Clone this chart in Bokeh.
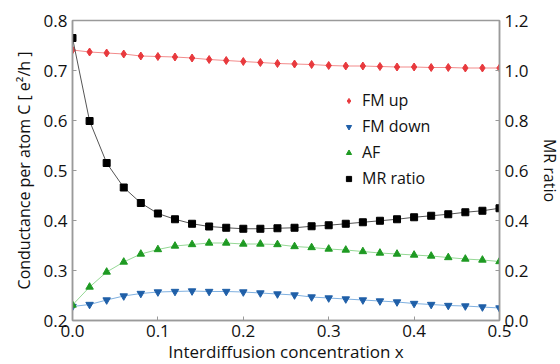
from bokeh.plotting import figure
from bokeh.models import Range1d, LinearAxis, FixedTicker, PrintfTickFormatter, Legend, LegendItem
from bokeh.embed import file_html
from bokeh.resources import INLINE

x = [0.00, 0.02, 0.04, 0.06, 0.08, 0.10, 0.12, 0.14, 0.16, 0.18, 0.20, 0.22, 0.24,
     0.26, 0.28, 0.30, 0.32, 0.34, 0.36, 0.38, 0.40, 0.42, 0.44, 0.46, 0.48, 0.50]

fm_up = [0.741, 0.737, 0.735, 0.733, 0.729, 0.728, 0.727, 0.725, 0.722, 0.720, 0.718, 0.716, 0.714,
         0.713, 0.712, 0.710, 0.709, 0.709, 0.708, 0.707, 0.707, 0.706, 0.706, 0.705, 0.705, 0.705]
fm_down = [0.228, 0.232, 0.241, 0.249, 0.254, 0.257, 0.258, 0.259, 0.258, 0.258, 0.257, 0.255, 0.253,
           0.251, 0.247, 0.245, 0.243, 0.241, 0.239, 0.237, 0.234, 0.232, 0.230, 0.229, 0.227, 0.225]
af = [0.231, 0.267, 0.297, 0.317, 0.333, 0.342, 0.349, 0.352, 0.355, 0.355, 0.353, 0.353, 0.352,
      0.348, 0.346, 0.343, 0.341, 0.338, 0.335, 0.333, 0.331, 0.329, 0.326, 0.323, 0.321, 0.318]
mr_ratio = [1.130, 0.798, 0.630, 0.532, 0.470, 0.428, 0.405, 0.387, 0.376, 0.371, 0.367, 0.367, 0.369,
            0.371, 0.377, 0.381, 0.387, 0.393, 0.399, 0.405, 0.413, 0.419, 0.425, 0.433, 0.439, 0.449]

x_ticks = [0.0, 0.1, 0.2, 0.3, 0.4, 0.5]
left_ticks = [0.2, 0.3, 0.4, 0.5, 0.6, 0.7, 0.8]
right_ticks = [0.0, 0.2, 0.4, 0.6, 0.8, 1.0, 1.2]

FONT = "Open Sans"
FRAME = "#9a9a9a"
RED, BLUE, GREEN = "#e8393d", "#1f5fa8", "#1e9a22"

p = figure(frame_width=427, frame_height=300, output_backend="svg", toolbar_location=None,
           x_range=Range1d(0, 0.5), y_range=Range1d(0.2, 0.8),
           min_border_left=72, min_border_top=20, min_border_right=40, min_border_bottom=30)
p.extra_y_ranges = {"mr": Range1d(0, 1.2)}
p.background_fill_color = "white"
p.border_fill_color = "white"
p.outline_line_color = FRAME
p.outline_line_width = 1.5
p.xgrid.visible = False
p.ygrid.visible = False

def style(ax):
    ax.axis_line_color = FRAME
    ax.axis_line_width = 1.5
    ax.major_tick_line_color = FRAME
    ax.major_tick_in = 4
    ax.major_tick_out = 0
    ax.minor_tick_line_color = None
    ax.major_label_text_font = FONT
    ax.major_label_text_font_size = "17px"
    ax.major_label_text_color = "#111111"
    ax.axis_label_text_font = FONT
    ax.axis_label_text_font_size = "16px"
    ax.axis_label_text_font_style = "normal"
    ax.axis_label_text_color = "#111111"
    ax.formatter = PrintfTickFormatter(format="%.1f")

xa = p.xaxis[0]
xa.ticker = FixedTicker(ticks=x_ticks)
xa.axis_label = "Interdiffusion concentration x"
style(xa)
xa.axis_label_text_font_size = "17px"
xa.major_label_standoff = 4
xa.axis_label_standoff = 0

ya = p.yaxis[0]
ya.ticker = FixedTicker(ticks=left_ticks)
ya.axis_label = "Conductance per atom C [ e²/h ]"
style(ya)
ya.major_label_standoff = 5
ya.axis_label_standoff = 6

ra = LinearAxis(y_range_name="mr", ticker=FixedTicker(ticks=right_ticks), axis_label="MR ratio")
style(ra)
ra.major_label_standoff = 5
ra.axis_label_standoff = 8
p.add_layout(ra, "right")

p.line(x, fm_up, color="#f28b8b", line_width=1)
m1 = p.scatter(x, fm_up, marker="diamond", size=8, fill_color=RED, line_color=RED)
p.line(x, fm_down, color="#7fb0e0", line_width=1)
m2 = p.scatter(x, fm_down, marker="inverted_triangle", size=7.5, fill_color=BLUE, line_color=BLUE)
p.line(x, af, color="#95d895", line_width=1)
m3 = p.scatter(x, af, marker="triangle", size=7.5, fill_color=GREEN, line_color=GREEN)
p.line(x, mr_ratio, color="#555555", line_width=1, y_range_name="mr")
m4 = p.scatter(x, mr_ratio, marker="square", size=7, fill_color="black", line_color="black", y_range_name="mr")

legend = Legend(items=[
    LegendItem(label="FM up", renderers=[m1]),
    LegendItem(label="FM down", renderers=[m2]),
    LegendItem(label="AF", renderers=[m3]),
    LegendItem(label="MR ratio", renderers=[m4]),
], location=(270, 131))
legend.background_fill_alpha = 0
legend.border_line_color = None
legend.padding = 0
legend.margin = 0
legend.spacing = 4
legend.glyph_height = 13
legend.glyph_width = 13
legend.label_height = 20
legend.label_standoff = 7
legend.label_text_font = FONT
legend.label_text_font_size = "16px"
legend.label_text_color = "#111111"
p.add_layout(legend)

open("out.html", "w").write(file_html(p, INLINE))
